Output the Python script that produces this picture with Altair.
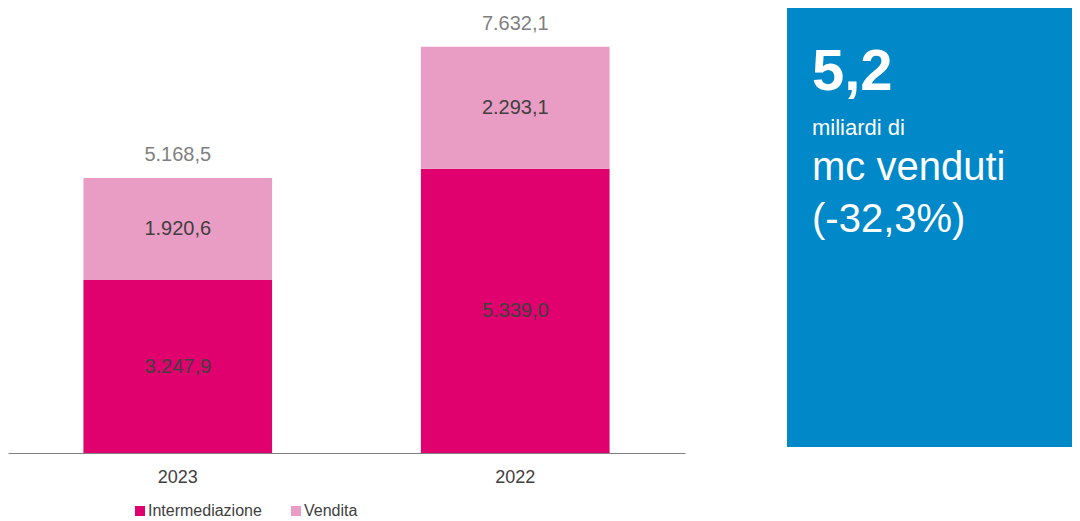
import altair as alt
import pandas as pd

years = ["2023", "2022"]
series = ["Intermediazione", "Vendita"]
intermediazione = [3247.9, 5339.0]
vendita = [1920.6, 2293.1]
totals = [5168.5, 7632.1]
kpi_value = "5,2"
kpi_lines = ["miliardi di", "mc venduti", "(-32,3%)"]

FONT = "Liberation Sans"

rows = []
for i, yr in enumerate(years):
    rows.append({"year": yr, "series": series[0], "value": intermediazione[i], "order": 0})
    rows.append({"year": yr, "series": series[1], "value": vendita[i], "order": 1})
df = pd.DataFrame(rows)
tot = pd.DataFrame({"year": years, "total": totals})

x = alt.X(
    "year:N", sort=years,
    scale=alt.Scale(paddingInner=0.441, paddingOuter=0.2235),
    axis=alt.Axis(title=None, labelAngle=0, ticks=False, domainColor="#808080",
                  labelColor="#404040", labelFontSize=18, labelPadding=15, labelFont=FONT),
)
yscale = alt.Scale(domain=[0, 8360], nice=False, zero=True)

base = alt.Chart(df).transform_stack(
    stack="value", groupby=["year"], as_=["y0", "y1"],
    sort=[alt.SortField("order", order="ascending")],
).transform_calculate(mid="(datum.y0 + datum.y1) / 2")

bars = base.mark_bar().encode(
    x=x,
    y=alt.Y("y0:Q", scale=yscale, axis=None),
    y2="y1:Q",
    color=alt.Color(
        "series:N",
        scale=alt.Scale(domain=series, range=["#E0006E", "#EA9DC4"]),
        legend=alt.Legend(title=None, orient="none", legendX=124, legendY=495,
                          direction="horizontal", symbolType="square", symbolSize=100,
                          symbolStrokeWidth=0, labelFontSize=16, labelColor="#404040",
                          labelFont=FONT, columnPadding=26, labelOffset=0),
    ),
)

labels = base.mark_text(fontSize=20, color="#404040", font=FONT).encode(
    x=x,
    y=alt.Y("mid:Q", scale=yscale),
    text=alt.Text("value:Q", format=",.1f"),
)

tot_text = alt.Chart(tot).mark_text(fontSize=20, color="#7f7f7f", font=FONT,
                                    dy=-17, baseline="alphabetic").encode(
    x=x,
    y=alt.Y("total:Q", scale=yscale),
    text=alt.Text("total:Q", format=",.1f"),
)

left = alt.layer(bars, labels, tot_text).properties(width=677, height=445)


def box_text(txt, size, ypos, bold=False):
    return alt.Chart(pd.DataFrame({"t": [txt]})).mark_text(
        align="left", baseline="alphabetic", fontSize=size, color="white",
        font=FONT, fontWeight="bold" if bold else "normal",
    ).encode(text="t:N", x=alt.value(25), y=alt.value(ypos))


panel = alt.layer(
    box_text(kpi_value, 58, 82, bold=True),
    box_text(kpi_lines[0], 22, 127),
    box_text(kpi_lines[1], 40, 172),
    box_text(kpi_lines[2], 40, 224),
).properties(width=285, height=439,
             view=alt.ViewBackground(fill="#0088C8", strokeWidth=0))

chart = alt.hconcat(left, panel, spacing=102).properties(padding=0).configure(
    locale={"number": {"decimal": ",", "thousands": ".", "grouping": [3], "currency": ["", "€"]}},
    view={"stroke": "transparent", "strokeWidth": 0},
)

chart.save("out.html", embed_options={"renderer": "svg", "actions": False})
